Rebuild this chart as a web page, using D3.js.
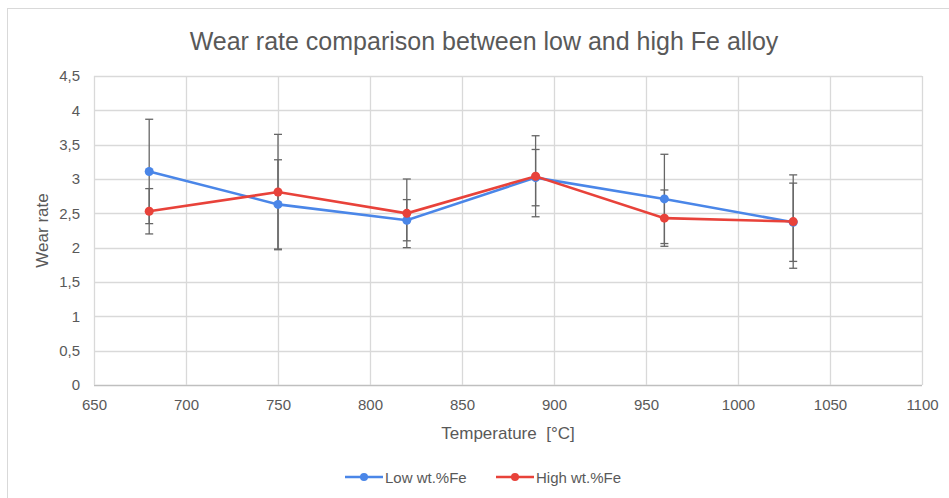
<!DOCTYPE html>
<html>
<head>
<meta charset="utf-8">
<script src="https://cdn.jsdelivr.net/npm/d3@7"></script>
<style>
  body { margin: 0; background: #fff; }
  text { font-family: "Liberation Sans", Arial, sans-serif; fill: #595959; }
</style>
</head>
<body>
<div id="chart"></div>
<script>
// temperatures (x)
var temps = [680, 750, 820, 890, 960, 1030];

// wear rate values
var lowVals = [3.11, 2.63, 2.40, 3.02, 2.71, 2.37];
var highVals = [2.53, 2.81, 2.50, 3.04, 2.43, 2.38];

// error amounts (+/-)
var lowErr = [0.76, 0.65, 0.30, 0.41, 0.65, 0.57];
var highErr = [0.33, 0.84, 0.50, 0.59, 0.41, 0.68];

var xTicks = [650, 700, 750, 800, 850, 900, 950, 1000, 1050, 1100];
var yTicks = [0, 0.5, 1, 1.5, 2, 2.5, 3, 3.5, 4, 4.5];

var seriesNames = ["Low wt.%Fe", "High wt.%Fe"];
var seriesColors = ["#4a86e8", "#e8423a"];

var svg_width = 949;
var svg_height = 498;
var margins = { top: 76, bottom: 113, right: 27, left: 94 };
var width = svg_width - margins.left - margins.right;
var height = svg_height - margins.top - margins.bottom;

var svg = d3.select("#chart")
            .append("svg")
            .attr("width", svg_width)
            .attr("height", svg_height);

// outer chart border
svg.append("rect")
   .attr("x", 7.5).attr("y", 8.5)
   .attr("width", 960).attr("height", 500)
   .style("fill", "none")
   .style("stroke", "#d9d9d9");

var g = svg.append("g")
           .attr("transform", "translate(" + margins.left + "," + margins.top + ")");

var x = d3.scaleLinear().domain([650, 1100]).range([0, width]);
var y = d3.scaleLinear().domain([0, 4.5]).range([height, 0]);

var fmt = d => String(d).replace(".", ",");

// grid lines
g.append("g")
 .selectAll("line.h")
 .data(yTicks)
 .enter().append("line")
 .attr("x1", 0).attr("x2", width)
 .attr("y1", d => Math.round(y(d)) + 0.5)
 .attr("y2", d => Math.round(y(d)) + 0.5)
 .style("stroke", d => d == 0 ? "#bfbfbf" : "#d9d9d9")
 .style("stroke-width", 1.3);

g.append("g")
 .selectAll("line.v")
 .data(xTicks)
 .enter().append("line")
 .attr("x1", d => Math.round(x(d)) + 0.5)
 .attr("x2", d => Math.round(x(d)) + 0.5)
 .attr("y1", 0).attr("y2", height)
 .style("stroke", "#d9d9d9")
 .style("stroke-width", 1.3);

// axes (labels only)
var xAxis = d3.axisBottom(x).tickValues(xTicks).tickFormat(d => String(d)).tickSize(0).tickPadding(14);
var yAxis = d3.axisLeft(y).tickValues(yTicks).tickFormat(fmt).tickSize(0).tickPadding(14);

g.append("g")
 .attr("transform", "translate(0," + height + ")")
 .call(xAxis)
 .call(s => s.select(".domain").remove())
 .selectAll("text")
 .style("font-size", "15px")
 .style("fill", "#595959");

g.append("g")
 .call(yAxis)
 .call(s => s.select(".domain").remove())
 .selectAll("text")
 .style("font-size", "15px")
 .style("fill", "#595959");

// series data
var series = [
  { name: seriesNames[0], color: seriesColors[0], vals: lowVals, err: lowErr },
  { name: seriesNames[1], color: seriesColors[1], vals: highVals, err: highErr }
];

// error bars
var capW = 4;
series.forEach(function(s) {
  var eg = g.append("g").attr("class", "errbars");
  temps.forEach(function(t, i) {
    var cx = x(t);
    var y1 = y(s.vals[i] + s.err[i]);
    var y2 = y(s.vals[i] - s.err[i]);
    eg.append("line").attr("x1", cx).attr("x2", cx).attr("y1", y1).attr("y2", y2)
      .style("stroke", "#666").style("stroke-width", 1.3);
    [y1, y2].forEach(function(yy) {
      eg.append("line").attr("x1", cx - capW).attr("x2", cx + capW).attr("y1", yy).attr("y2", yy)
        .style("stroke", "#666").style("stroke-width", 1.3);
    });
  });
});

// lines and markers
var line = d3.line().x((d, i) => x(temps[i])).y(d => y(d));

series.forEach(function(s) {
  g.append("path")
   .datum(s.vals)
   .attr("d", line)
   .style("fill", "none")
   .style("stroke", s.color)
   .style("stroke-width", 2.6);

  g.append("g")
   .selectAll("circle")
   .data(s.vals)
   .enter().append("circle")
   .attr("cx", (d, i) => x(temps[i]))
   .attr("cy", d => y(d))
   .attr("r", 4.5)
   .style("fill", s.color);
});

// title
svg.append("text")
   .attr("x", 484).attr("y", 50)
   .attr("text-anchor", "middle")
   .style("font-size", "25px")
   .text("Wear rate comparison between low and high Fe alloy");

// axis titles
svg.append("text")
   .attr("x", 508).attr("y", 439)
   .attr("text-anchor", "middle")
   .style("font-size", "17px")
   .style("white-space", "pre")
   .text("Temperature  [°C]");

svg.append("text")
   .attr("transform", "translate(48," + (margins.top + height / 2) + ") rotate(-90)")
   .attr("text-anchor", "middle")
   .style("font-size", "17px")
   .text("Wear rate");

// legend
var legendX = [345, 496];
series.forEach(function(s, i) {
  var lg = svg.append("g").attr("transform", "translate(" + legendX[i] + ",477)");
  lg.append("line").attr("x1", 0).attr("x2", 38).attr("y1", 0).attr("y2", 0)
    .style("stroke", s.color).style("stroke-width", 2.6);
  lg.append("circle").attr("cx", 19).attr("cy", 0).attr("r", 4).style("fill", s.color);
  lg.append("text").attr("x", 40).attr("y", 5.5)
    .style("font-size", "15px")
    .text(s.name);
});
</script>
</body>
</html>
